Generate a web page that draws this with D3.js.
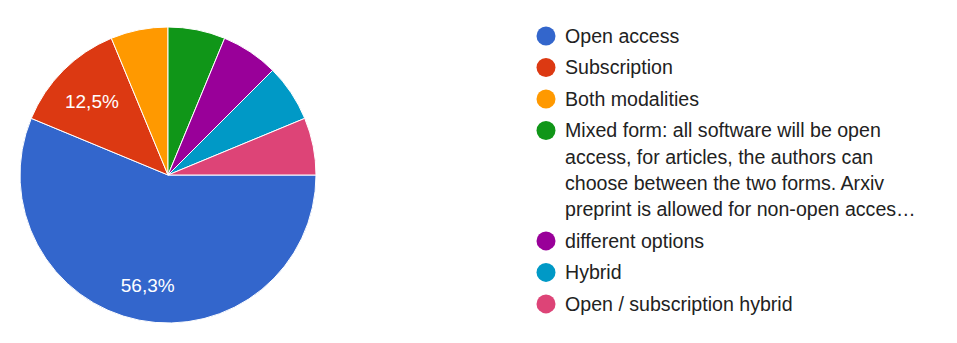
<!DOCTYPE html>
<html><head><meta charset="utf-8">
<script src="https://cdn.jsdelivr.net/npm/d3@7"></script>
<style>html,body{margin:0;padding:0;background:#fff;}svg{display:block;font-family:"Liberation Sans",Arial,sans-serif;}</style>
</head><body>
<svg id="chart" width="957" height="343"></svg>
<script>
const categories = [
  "Open access",
  "Subscription",
  "Both modalities",
  "Mixed form: all software will be open access, for articles, the authors can choose between the two forms. Arxiv preprint is allowed for non-open acces\u2026",
  "different options",
  "Hybrid",
  "Open / subscription hybrid"
];
const counts = [9, 2, 1, 1, 1, 1, 1];
const colors = ["#3366cc", "#dc3912", "#ff9900", "#109618", "#990099", "#0099c6", "#dd4477"];

const svg = d3.select("#chart");
const cx = 168, cy = 175, r = 148;
const total = d3.sum(counts);
const data = categories.map((c, i) => ({ name: c, value: counts[i], color: colors[i] }));

const pie = d3.pie().value(d => d.value).sort(null)
  .startAngle(Math.PI / 2).endAngle(Math.PI / 2 + 2 * Math.PI);
const arcs = pie(data);
const arc = d3.arc().innerRadius(0).outerRadius(r);
const labelArc = d3.arc().innerRadius(109).outerRadius(109);

const g = svg.append("g").attr("transform", `translate(${cx},${cy})`);
g.selectAll("path").data(arcs).join("path")
  .attr("d", arc).attr("fill", d => d.data.color)
  .attr("stroke", "#fff").attr("stroke-width", 1);

const fmt = v => (Math.round(v * 1000) / 10).toFixed(1).replace(".", ",") + "%";
g.selectAll("text.pl").data(arcs.filter(d => d.data.value / total > 0.1)).join("text")
  .attr("class", "pl")
  .attr("transform", d => { const c = labelArc.centroid(d); return `translate(${c[0] + 1},${c[1] + 3})`; })
  .attr("text-anchor", "middle").attr("dy", "0.35em")
  .attr("fill", "#fff").attr("font-size", 19)
  .text(d => fmt(d.data.value / total));

// legend
const lx = 546, tx = 565, fs = 19.6, lineH = 26.3, pitch = 31.5, maxW = 365;
let y = 36;
const leg = svg.append("g");
data.forEach(d => {
  leg.append("circle").attr("cx", lx).attr("cy", y).attr("r", 9.5).attr("fill", d.color);
  const t = leg.append("text").attr("x", tx).attr("y", y)
    .attr("font-size", fs).attr("fill", "#222");
  const words = d.name.split(" ");
  let line = [], lines = [];
  const probe = leg.append("text").attr("font-size", fs);
  words.forEach(w => {
    const test = line.concat([w]).join(" ");
    probe.text(test);
    if (probe.node().getComputedTextLength() > maxW && line.length) {
      lines.push(line.join(" ")); line = [w];
    } else line.push(w);
  });
  if (line.length) lines.push(line.join(" "));
  probe.remove();
  lines.forEach((ln, i) => {
    t.append("tspan").attr("x", tx).attr("dy", i === 0 ? "0.35em" : lineH).text(ln);
  });
  y += (lines.length - 1) * lineH + pitch;
});
</script>
</body></html>
